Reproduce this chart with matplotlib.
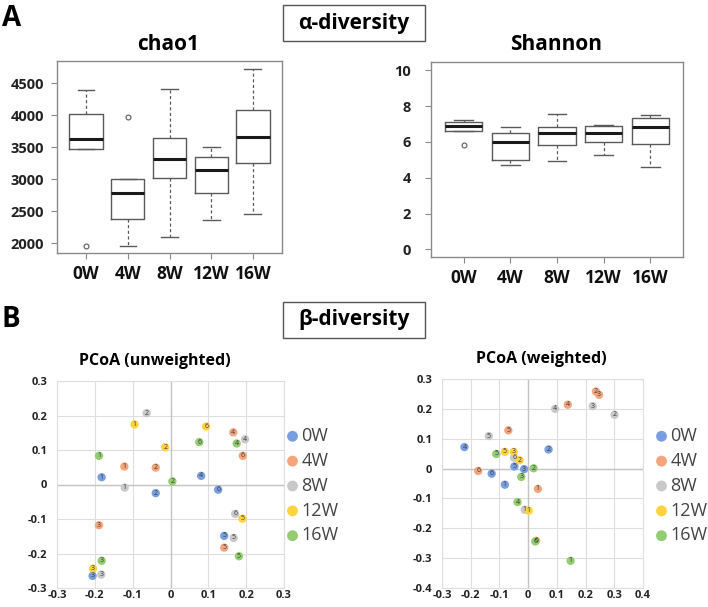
import matplotlib
matplotlib.use("Agg")
import matplotlib.pyplot as plt
from matplotlib.patches import Rectangle

plt.rcParams['font.family'] = ['Open Sans', 'DejaVu Sans']

W, H = 708, 607

groups = ['0W', '4W', '8W', '12W', '16W']
colors = ['#7a9fe0', '#f4a57c', '#c9c9c9', '#ffd33f', '#93cc72']

# alpha diversity box stats
chao_whislo = [3474, 1963, 2099, 2359, 2453]
chao_q1 = [3474, 2375, 3026, 2792, 3260]
chao_med = [3625, 2786, 3313, 3146, 3667]
chao_q3 = [4021, 3005, 3641, 3344, 4078]
chao_whishi = [4396, 3005, 4417, 3505, 4729]
chao_fliers = [[1958], [3969], [], [], []]

shan_whislo = [6.62, 4.73, 4.95, 5.27, 4.58]
shan_q1 = [6.62, 4.97, 5.85, 6.00, 5.87]
shan_med = [6.92, 6.00, 6.52, 6.51, 6.84]
shan_q3 = [7.10, 6.51, 6.82, 6.92, 7.33]
shan_whishi = [7.22, 6.86, 7.55, 6.97, 7.53]
shan_fliers = [[5.85], [], [], [], []]

# PCoA coordinates, per group, sample ids 1-6
unw_id = {'0W': [1, 2, 3, 4, 5, 6], '4W': [1, 2, 3, 4, 5, 6], '8W': [1, 2, 3, 4, 5, 6],
          '12W': [1, 2, 3, 5, 6], '16W': [1, 2, 3, 4, 5, 6]}
unw_x = {'0W': [-0.182, -0.039, -0.206, 0.081, 0.142, 0.126],
         '4W': [-0.122, -0.039, -0.189, 0.166, 0.142, 0.191],
         '8W': [-0.121, -0.063, -0.183, 0.197, 0.167, 0.171],
         '12W': [-0.095, -0.014, -0.205, 0.190, 0.094],
         '16W': [-0.189, 0.005, -0.182, 0.175, 0.181, 0.076]}
unw_y = {'0W': [0.021, -0.025, -0.265, 0.025, -0.149, -0.015],
         '4W': [0.052, 0.049, -0.118, 0.151, -0.183, 0.083],
         '8W': [-0.009, 0.207, -0.261, 0.131, -0.155, -0.085],
         '12W': [0.174, 0.108, -0.244, -0.099, 0.168],
         '16W': [0.083, 0.009, -0.221, 0.119, -0.208, 0.123]}

w_id = unw_id
w_x = {'0W': [-0.081, 0.071, -0.014, -0.222, -0.048, -0.127],
       '4W': [0.034, 0.236, 0.247, 0.138, -0.069, -0.174],
       '8W': [-0.012, 0.301, 0.225, 0.094, -0.137, -0.049],
       '12W': [0.002, -0.030, -0.050, -0.081, 0.028],
       '16W': [0.148, 0.019, -0.024, -0.037, -0.111, 0.025]}
w_y = {'0W': [-0.054, 0.064, -0.002, 0.072, 0.007, -0.017],
       '4W': [-0.068, 0.258, 0.247, 0.214, 0.128, -0.008],
       '8W': [-0.138, 0.180, 0.209, 0.200, 0.109, 0.036],
       '12W': [-0.141, 0.028, 0.056, 0.056, -0.242],
       '16W': [-0.309, 0.001, -0.028, -0.112, 0.049, -0.244]}

fig = plt.figure(figsize=(W / 100, H / 100), dpi=100)


def px_axes(l, t, r, b):
    return fig.add_axes([l / W, 1 - b / H, (r - l) / W, (b - t) / H])


def fig_text(x, y, s, **kw):
    fig.text(x / W, 1 - y / H, s, **kw)


def box_panel(ax, whislo, q1, med, q3, whishi, fliers, ylim, yticks, ypad):
    stats = []
    for i, g in enumerate(groups):
        stats.append(dict(label=g, whislo=whislo[i], q1=q1[i], med=med[i],
                          q3=q3[i], whishi=whishi[i], fliers=fliers[i]))
    ax.bxp(stats, widths=0.8, capwidths=0.4,
           boxprops=dict(color='#5a5a5a', lw=1),
           medianprops=dict(color='#1a1a1a', lw=2.2),
           whiskerprops=dict(color='#5a5a5a', lw=0.9, ls=(0, (2.5, 2))),
           capprops=dict(color='#5a5a5a', lw=1),
           flierprops=dict(marker='o', markersize=3.5, markerfacecolor='none',
                           markeredgecolor='#5a5a5a', markeredgewidth=0.8))
    ax.set_xlim(0.3, 5.7)
    ax.set_ylim(*ylim)
    ax.set_yticks(yticks)
    for sp in ax.spines.values():
        sp.set_color('#8a8a8a')
        sp.set_linewidth(1)
    ax.tick_params(axis='both', colors='#8a8a8a', length=4.3, width=0.8)
    ax.tick_params(axis='y', labelcolor='#222222', labelsize=10.5, pad=ypad)
    ax.tick_params(axis='x', labelcolor='#111111', labelsize=12.5, pad=4)
    for lab in ax.get_xticklabels() + ax.get_yticklabels():
        lab.set_fontweight('bold')


ax1 = px_axes(57, 61, 282, 253)
box_panel(ax1, chao_whislo, chao_q1, chao_med, chao_q3, chao_whishi, chao_fliers,
          (1848, 4848), [2000, 2500, 3000, 3500, 4000, 4500], 5)

ax2 = px_axes(431, 62, 683, 257)
box_panel(ax2, shan_whislo, shan_q1, shan_med, shan_q3, shan_whishi, shan_fliers,
          (-0.43, 10.47), [0, 2, 4, 6, 8, 10], 10)


def pcoa_panel(ax, xs, ys, ids, xlim, ylim, xticks, yticks, leg_anchor):
    ax.set_xlim(*xlim)
    ax.set_ylim(*ylim)
    ax.set_xticks(xticks)
    ax.set_yticks(yticks)
    ax.set_xticklabels(['0' if abs(v) < 1e-9 else '%g' % v for v in xticks])
    ax.set_yticklabels(['0' if abs(v) < 1e-9 else '%g' % v for v in yticks])
    ax.grid(True, color='#dedede', lw=0.8)
    ax.set_axisbelow(True)
    ax.axhline(0, color='#c4c4c4', lw=1, zorder=1)
    ax.axvline(0, color='#c4c4c4', lw=1, zorder=1)
    for sp in ax.spines.values():
        sp.set_color('#dedede')
        sp.set_linewidth(0.8)
    ax.tick_params(length=0, labelsize=8, labelcolor='#222222')
    ax.tick_params(axis='y', pad=7)
    ax.tick_params(axis='x', pad=1.5)
    for lab in ax.get_xticklabels() + ax.get_yticklabels():
        lab.set_fontweight('bold')
    for g, c in zip(groups, colors):
        ax.scatter(xs[g], ys[g], s=36, color=c, edgecolors='none', label=g, zorder=3)
        for x, y, n in zip(xs[g], ys[g], ids[g]):
            ax.text(x, y, str(n), ha='center', va='center', fontsize=5,
                    color='#3a3a3a', zorder=4)
    ax.legend(loc='upper left', bbox_to_anchor=(leg_anchor[0] / W, 1 - leg_anchor[1] / H),
              bbox_transform=fig.transFigure, frameon=False, fontsize=13,
              markerscale=1.3, handlelength=0.5, handletextpad=0.25,
              labelspacing=0.38, borderpad=0, borderaxespad=0,
              labelcolor='#444444')


ax3 = px_axes(57, 381, 284, 588)
pcoa_panel(ax3, unw_x, unw_y, unw_id, (-0.3, 0.3), (-0.3, 0.3),
           [-0.3, -0.2, -0.1, 0, 0.1, 0.2, 0.3], [-0.3, -0.2, -0.1, 0, 0.1, 0.2, 0.3],
           (288, 427))

ax4 = px_axes(442, 379, 643, 588)
pcoa_panel(ax4, w_x, w_y, w_id, (-0.3, 0.4), (-0.4, 0.3),
           [-0.3, -0.2, -0.1, 0, 0.1, 0.2, 0.3, 0.4],
           [-0.4, -0.3, -0.2, -0.1, 0, 0.1, 0.2, 0.3],
           (657, 427))

# headings
fig_text(2, 26, 'A', fontsize=20, fontweight='bold', va='baseline')
fig_text(2, 327, 'B', fontsize=20, fontweight='bold', va='baseline')
fig_text(168, 50, 'chao1', fontsize=15, fontweight='bold', ha='center', va='baseline')
fig_text(556, 50, 'Shannon', fontsize=15, fontweight='bold', ha='center', va='baseline')
fig_text(155, 365, 'PCoA (unweighted)', fontsize=11.5, fontweight='bold',
         ha='center', va='baseline')
fig_text(541, 363, 'PCoA (weighted)', fontsize=11.5, fontweight='bold',
         ha='center', va='baseline')

for top, label in [(5, 'α-diversity'), (302, 'β-diversity')]:
    fig.add_artist(Rectangle((283 / W, 1 - (top + 36) / H), 142 / W, 36 / H,
                             transform=fig.transFigure, fill=False,
                             ec='#555555', lw=1))
    fig_text(354, top + 18, label, fontsize=15, fontweight='bold',
             ha='center', va='center')

fig.savefig('out.png', dpi=100)
